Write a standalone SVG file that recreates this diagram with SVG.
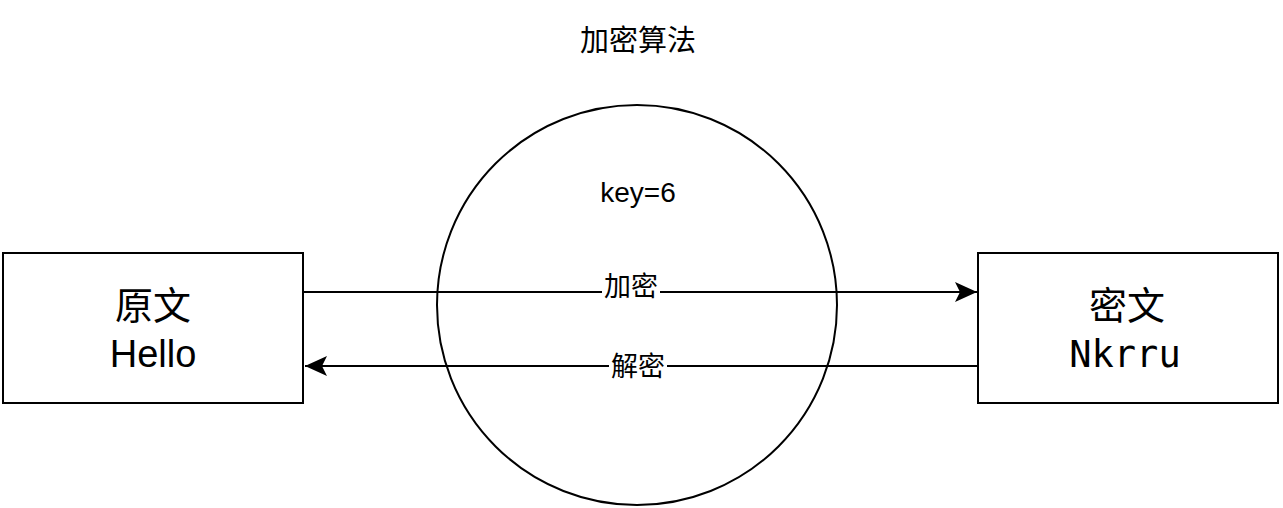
<svg xmlns="http://www.w3.org/2000/svg" width="1283" height="508" viewBox="0 0 1283 508">
<style>
.box{fill:#fff;stroke:#000;stroke-width:2}
.ln{fill:none;stroke:#000;stroke-width:2}
.t{font-family:"Liberation Sans","Noto Sans CJK SC",sans-serif;fill:#000;text-anchor:middle}
.m{font-family:"DejaVu Sans Mono","Noto Sans CJK SC",monospace;fill:#000;text-anchor:middle}
.lbl{fill:#fff}
</style>
<defs>
<marker id="ah" markerWidth="22" markerHeight="22" refX="22" refY="11" orient="auto" markerUnits="userSpaceOnUse">
<path d="M0,1 L22,11 L0,21 L5,11 Z" fill="#000"/>
</marker>
</defs>
<rect width="1283" height="508" fill="#fff"/>
<g id="title"><text class="t" x="638" y="51" font-size="29">加密算法</text></g>
<g id="algo">
<circle cx="637" cy="305" r="200" fill="none" stroke="#000" stroke-width="2"/>
<text class="t" x="638" y="202" font-size="28">key=6</text>
</g>
<g id="plain">
<rect class="box" x="3" y="253" width="300" height="150"/>
<text class="t" x="153" y="319" font-size="38">原文</text>
<text class="t" x="153" y="367" font-size="38">Hello</text>
</g>
<g id="cipher">
<rect class="box" x="978" y="253" width="300" height="150"/>
<text class="t" x="1127" y="319" font-size="38">密文</text>
<text class="m" x="1125" y="367" font-size="37">Nkrru</text>
</g>
<g id="connectors">
<line class="ln" x1="303" y1="292" x2="977" y2="292" marker-end="url(#ah)"/>
<rect class="lbl" x="602" y="277" width="58" height="30"/>
<text class="t" x="631" y="296" font-size="27">加密</text>
<line class="ln" x1="978" y1="366" x2="305" y2="366" marker-end="url(#ah)"/>
<rect class="lbl" x="609" y="351" width="58" height="30"/>
<text class="t" x="638" y="376" font-size="27">解密</text>
</g>
</svg>
